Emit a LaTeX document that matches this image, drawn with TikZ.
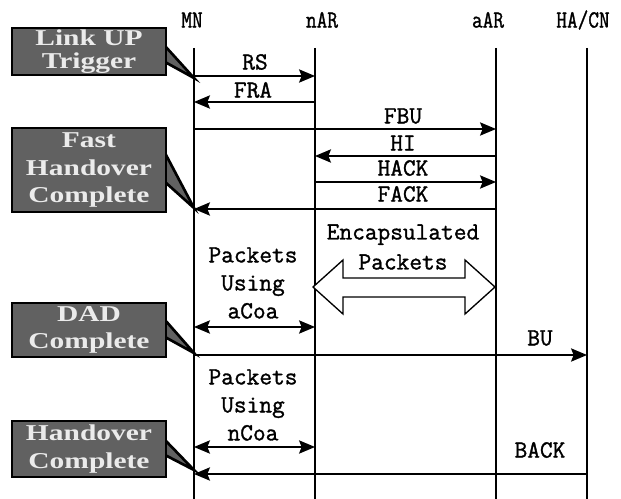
\documentclass[tikz,border=0pt]{standalone}
\usepackage{fontspec}
\setmainfont{Liberation Serif}
\setmonofont{Latin Modern Mono}[BoldFont={Latin Modern Mono},BoldFeatures={FakeBold=1.3}]
\usetikzlibrary{arrows.meta}

\tikzset{
  life/.style={line width=1pt},
  msg/.style={line width=1pt,-{Stealth[length=12pt,width=10pt,inset=2pt]}},
  dmsg/.style={line width=1pt,{Stealth[length=12pt,width=10pt,inset=2pt]}-{Stealth[length=12pt,width=10pt,inset=2pt]}},
  lbl/.style={font=\ttfamily\bfseries\fontsize{18.5}{21}\selectfont,inner sep=0pt,align=center},
  head/.style={font=\ttfamily\bfseries\fontsize{18.5}{21}\selectfont,inner sep=0pt},
  boxline/.style={fill=black!62,draw=black,line width=2pt,line join=miter},
  boxtext/.style={font=\rmfamily\bfseries\fontsize{17}{20.5}\selectfont,text=black!8,align=center,inner sep=0pt},
}

% grey trigger box on the left with a wedge to the MN line
% #1 name, #2 top, #3 bottom, #4/#5 wedge base, #6 tip, #7 text
\newcommand\trigbox[7]{%
  \draw[boxline] (165,#4) -- (mn-l |- 0,#6) -- (165,#5) -- cycle;
  \draw[boxline] (12,#2) rectangle (166,#3);
  \node[boxtext] (#1) at (89,{(#2+#3)/2}) {#7};
}
\newcommand\wide[1]{\scalebox{1.3}[1]{#1}}
\newcommand\narrow[1]{\scalebox{0.84}[1]{#1}}

\begin{document}
\begin{tikzpicture}[x=0.75pt,y=-0.75pt]
  \useasboundingbox (0,0) rectangle (621,499);

  %%%%% entities %%%%%
  \node[head] (mn)   at (192,20) {\narrow{MN}};
  \node[head] (nar)  at (322,20) {\narrow{nAR}};
  \node[head] (aar)  at (488,20) {\narrow{aAR}};
  \node[head] (hacn) at (583,20) {\narrow{HA/CN}};

  \coordinate (mn-l)   at (194,48);
  \coordinate (nar-l)  at (315,48);
  \coordinate (aar-l)  at (496,48);
  \coordinate (hacn-l) at (587,48);

  \foreach \l in {mn-l,nar-l,aar-l,hacn-l}
    \draw[life] (\l) -- (\l |- 0,499);

  %%%%% fast handover %%%%%
  \draw[msg] (mn-l |- 0,76)  -- (nar-l |- 0,76);
  \node[lbl] (rs) at (255,62) {RS};
  \draw[msg] (nar-l |- 0,102) -- (mn-l |- 0,102);
  \node[lbl] (fra) at (253,90) {FRA};
  \draw[msg] (mn-l |- 0,129) -- (aar-l |- 0,129);
  \node[lbl] (fbu) at (403,116) {FBU};
  \draw[msg] (aar-l |- 0,156) -- (nar-l |- 0,156);
  \node[lbl] (hi) at (403,143) {HI};
  \draw[msg] (nar-l |- 0,182) -- (aar-l |- 0,182);
  \node[lbl] (hack) at (403,168) {HACK};
  \draw[msg] (aar-l |- 0,209) -- (mn-l |- 0,209);
  \node[lbl] (fack) at (403,194) {FACK};

  %%%%% data path %%%%%
  \node[lbl] (pkta) at (253,283) {Packets\\Using\\aCoa};
  \draw[dmsg] (mn-l |- 0,327) -- (nar-l |- 0,327);

  \node[lbl,font=\ttfamily\bfseries\fontsize{18.5}{22.5}\selectfont] (encap) at (403,247) {Encapsulated\\Packets};
  \draw[line width=1pt,fill=white,line join=miter]
    (313,287) -- (343,260) -- (343,278) -- (465,278) -- (465,260) -- (495,287)
    -- (465,314) -- (465,297) -- (343,297) -- (343,314) -- cycle;

  \draw[msg] (mn-l |- 0,355) -- (hacn-l |- 0,355);
  \node[lbl] (bu) at (540,338) {BU};

  \node[lbl] (pktn) at (253,405) {Packets\\Using\\nCoa};
  \draw[dmsg] (mn-l |- 0,447) -- (nar-l |- 0,447);

  \draw[msg] (hacn-l |- 0,474) -- (mn-l |- 0,474);
  \node[lbl] (back) at (540,450) {BACK};

  %%%%% triggers %%%%%
  \trigbox{linkup}{28}{75}{46}{62}{78}{\wide{Link UP}\\[-3pt]\wide{Trigger}}
  \trigbox{fhc}{128}{212}{153}{182}{208}{\wide{Fast}\\\wide{Handover}\\\wide{Complete}}
  \trigbox{dad}{303}{357}{320}{337}{353}{\wide{DAD}\\\wide{Complete}}
  \trigbox{hoc}{421}{477}{440}{455}{470}{\wide{Handover}\\\wide{Complete}}
\end{tikzpicture}
\end{document}
